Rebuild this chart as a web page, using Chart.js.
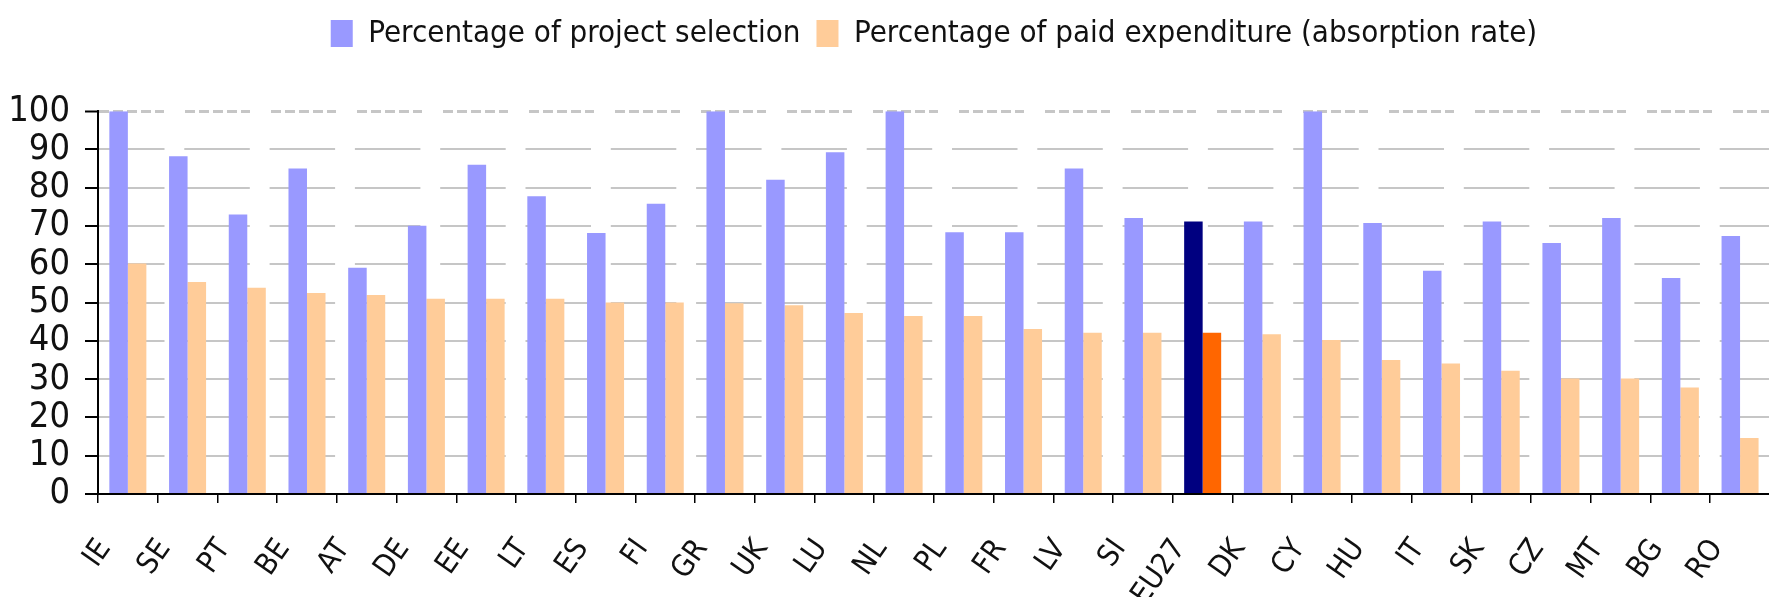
<!DOCTYPE html>
<html>
<head>
<meta charset="utf-8">
<script src="https://cdn.jsdelivr.net/npm/chart.js@4.4.1/dist/chart.umd.min.js"></script>
<style>
  html, body { margin: 0; padding: 0; background: #fff; overflow: hidden; }
  #wrap { width: 1800px; height: 597px; }
</style>
</head>
<body>
<div id="wrap"><canvas id="container"></canvas></div>
<script>
const COUNTRIES = ["IE", "SE", "PT", "BE", "AT", "DE", "EE", "LT", "ES", "FI", "GR", "UK", "LU", "NL",
  "PL", "FR", "LV", "SI", "EU27", "DK", "CY", "HU", "IT", "SK", "CZ", "MT", "BG", "RO"];

const SELECTION = [100, 88.2, 73, 85, 59.1, 70.1, 86, 77.8, 68.2, 75.8, 100, 82.1, 89.3, 100,
  68.4, 68.4, 85, 72.1, 71.2, 71.2, 100, 70.8, 58.3, 71.2, 65.6, 72.1, 56.4, 67.4];

const ABSORPTION = [60.2, 55.4, 53.9, 52.5, 52, 51, 51, 51, 50, 50, 49.8, 49.3, 47.3, 46.5,
  46.5, 43.1, 42.1, 42.1, 42.1, 41.7, 40.2, 35, 34.1, 32.2, 30.2, 30.2, 27.8, 14.6];

const Y_TICKS = [0, 10, 20, 30, 40, 50, 60, 70, 80, 90, 100];

const HIGHLIGHT = "EU27";

const FONT = "'Liberation Sans Narrow', 'DejaVu Sans Condensed', 'Open Sans', sans-serif";

const barColors = (normal, special) =>
  COUNTRIES.map((c) => (c === HIGHLIGHT ? special : normal));

// the legend in the original is centred over the plot, not over the page
const legendShift = {
  id: "legendShift",
  afterLayout(chart) {
    const a = chart.chartArea;
    const dx = (a.left + a.right) / 2 - (chart.legend.left + chart.legend.right) / 2;
    chart.legend.left += dx;
    chart.legend.right += dx;
  },
};

new Chart(document.getElementById("container"), {
  type: "bar",
  data: {
    labels: COUNTRIES,
    datasets: [
      {
        label: "Percentage of project selection",
        data: SELECTION,
        backgroundColor: barColors("#9999ff", "#000080"),
        borderWidth: 0,
      },
      {
        label: "Percentage of paid expenditure (absorption rate)",
        data: ABSORPTION,
        backgroundColor: barColors("#ffcc99", "#ff6600"),
        borderWidth: 0,
      },
    ],
  },
  options: {
    responsive: true,
    maintainAspectRatio: false,
    animation: false,
    layout: { padding: { left: 0, right: 25, top: 2, bottom: 0 } },
    datasets: {
      bar: { categoryPercentage: 0.62, barPercentage: 1 },
    },
    plugins: {
      tooltip: { enabled: false },
      legend: {
        position: "top",
        labels: {
          color: "#111",
          font: { family: FONT, size: 31 },
          boxWidth: 22,
          boxHeight: 27,
          padding: 16,
        },
      },
      // empty spacer between legend and plot
      subtitle: {
        display: true,
        text: "",
        weight: 500,
        font: { size: 1 },
        padding: { top: 0, bottom: 51 },
      },
    },
    scales: {
      x: {
        afterFit(scale) { scale.height = 103; },
        grid: {
          offset: true,
          drawOnChartArea: false,
          drawTicks: true,
          tickLength: 9,
          tickColor: "#000",
          lineWidth: 1.5,
        },
        border: { display: true, color: "#000", width: 2 },
        ticks: {
          autoSkip: false,
          minRotation: 55,
          maxRotation: 55,
          padding: 30,
          labelOffset: -23,
          color: "#111",
          font: { family: FONT, size: 30 },
        },
      },
      y: {
        min: 0,
        max: 100,
        afterFit(scale) { scale.width = 98; },
        afterBuildTicks(scale) { scale.ticks = Y_TICKS.map((v) => ({ value: v })); },
        grid: {
          color: "#c6c6c6",
          lineWidth: (ctx) => (ctx.tick && ctx.tick.value === 100 ? 3 : 2),
          tickColor: "#000",
          tickLength: 13,
          tickWidth: 2,
          tickBorderDash: [],
        },
        border: {
          display: true,
          color: "#000",
          width: 2,
          dash: (ctx) =>
            ctx.tick && ctx.tick.value === 100
              ? [10, 4, 10, 4, 10, 4, 10, 4, 9, 21]
              : [65.5, 19.8],
        },
        ticks: {
          autoSkip: false,
          padding: 15,
          color: "#111",
          font: { family: FONT, size: 36 },
        },
      },
    },
  },
  plugins: [legendShift],
});
</script>
</body>
</html>
